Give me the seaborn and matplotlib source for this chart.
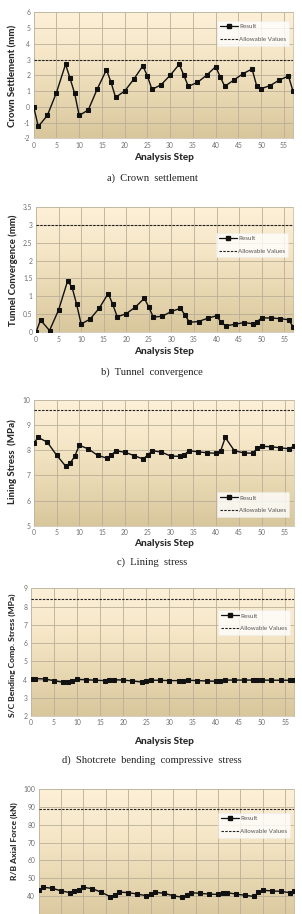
import numpy as np
import matplotlib
matplotlib.use('Agg')
import matplotlib.pyplot as plt
import seaborn as sns
from matplotlib.lines import Line2D
from matplotlib.colors import LinearSegmentedColormap

sns.set_style('white')
plt.rcParams['font.family'] = ['Lato', 'DejaVu Sans']

# analysis steps shared by all five charts
steps = [0, 1, 3, 5, 7, 8, 9, 10, 12, 14, 16, 17, 18, 20, 22, 24, 25, 26, 28, 30,
         32, 33, 34, 36, 38, 40, 41, 42, 44, 46, 48, 49, 50, 52, 54, 56, 57]

crown_settlement = [0.0, -1.25, -0.55, 0.9, 2.7, 1.8, 0.85, -0.55, -0.2, 1.15, 2.35, 1.55,
                    0.6, 1.0, 1.75, 2.6, 1.95, 1.1, 1.4, 2.0, 2.7, 2.0, 1.3, 1.55, 2.0,
                    2.55, 1.9, 1.3, 1.7, 2.1, 2.4, 1.35, 1.15, 1.35, 1.7, 1.95, 1.0]
tunnel_convergence = [0.0, 0.34, 0.05, 0.62, 1.43, 1.25, 0.78, 0.23, 0.37, 0.67, 1.08, 0.78,
                      0.43, 0.52, 0.70, 0.95, 0.70, 0.42, 0.45, 0.58, 0.67, 0.48, 0.28, 0.30,
                      0.39, 0.46, 0.28, 0.18, 0.22, 0.27, 0.24, 0.30, 0.40, 0.40, 0.38, 0.35, 0.14]
lining_stress = [8.28, 8.51, 8.32, 7.81, 7.37, 7.49, 7.76, 8.20, 8.05, 7.80, 7.69, 7.80,
                 7.98, 7.92, 7.79, 7.65, 7.81, 7.98, 7.93, 7.77, 7.76, 7.82, 7.98, 7.94,
                 7.90, 7.88, 7.98, 8.51, 7.98, 7.90, 7.88, 8.08, 8.16, 8.14, 8.10, 8.06, 8.16]
sc_bending = [4.03, 4.05, 4.03, 3.94, 3.85, 3.88, 3.92, 4.01, 3.99, 3.96, 3.94, 3.96,
              3.99, 3.97, 3.92, 3.86, 3.90, 3.96, 3.96, 3.94, 3.94, 3.94, 3.96, 3.94,
              3.92, 3.90, 3.92, 3.97, 3.97, 3.97, 3.97, 3.99, 3.97, 3.96, 3.96, 3.96, 3.99]
rb_axial = [43.2, 44.9, 44.4, 42.9, 41.9, 42.6, 43.6, 44.9, 44.1, 42.1, 39.6, 40.7,
            42.2, 41.9, 41.1, 40.2, 40.9, 42.1, 41.5, 40.2, 39.3, 40.4, 41.9, 41.5,
            41.1, 40.9, 41.5, 41.9, 41.1, 40.4, 39.8, 42.1, 43.2, 42.9, 42.6, 41.9, 42.9]

allowable = [3.0, 3.0, 9.6, 8.4, 88.6]
series = [crown_settlement, tunnel_convergence, lining_stress, sc_bending, rb_axial]
ylabels = ['Crown Settlement (mm)', 'Tunnel Convergence (mm)', 'Lining Stress  (MPa)',
           'S/C Bending Comp. Stress (MPa)', 'R/B Axial Force (kN)']
captions = ['a)  Crown  settlement', 'b)  Tunnel  convergence', 'c)  Lining  stress',
            'd)  Shotcrete  bending  compressive  stress', None]
ylims = [(-2, 6), (0, 3.5), (5, 10), (2, 9), (25, 100)]
yticks = [np.arange(-2, 6.5, 1), np.arange(0, 3.75, 0.5), np.arange(5, 10.5, 1),
          np.arange(2, 9.5, 1), np.arange(30, 105, 10)]
# the last chart is cut off at the bottom of the page, "30" is hidden
ytick_labels = [[f'{v:g}' for v in t] for t in yticks]
ytick_labels[4][0] = ''

W, H = 302, 914
# pixel boxes: left, top, right, bottom
boxes = [(33.7, 12.3, 293.0, 138.3),
         (36.0, 206.7, 293.3, 332.3),
         (33.7, 400.0, 293.7, 525.7),
         (30.7, 588.3, 294.4, 716.0),
         (38.6, 789.0, 294.3, 922.8)]
legend_pos = [(217, 21), (216, 233), (217, 492), (218, 610), (218, 813)]
ylabel_pos = [(13, 76), (13, 270), (12, 462), (12, 655), (14, 841)]
ylabel_size = [6.9, 6.8, 6.9, 6.1, 6.1]
xlabel_y = [157, 351, 543, 741, None]
caption_y = [178, 372, 562, 760, None]

fig = plt.figure(figsize=(W / 100, H / 100), dpi=100)
bg = LinearSegmentedColormap.from_list('bg', ['#fdf0d8', '#f6e7c8', '#e8d8b2', '#d8c69c'])
grad = np.linspace(0, 1, 256).reshape(-1, 1)

for i in range(5):
    l, t, r, b = boxes[i]
    ax = fig.add_axes([l / W, 1 - b / H, (r - l) / W, (b - t) / H])
    ax.imshow(grad, extent=[0, 1, 0, 1], transform=ax.transAxes, aspect='auto',
              cmap=bg, zorder=-2)
    sns.lineplot(x=steps, y=series[i], ax=ax, color='#111111', lw=1.0, marker='s',
                 markersize=2.5, markeredgecolor='#111111', zorder=3)
    ax.axhline(allowable[i], color='#222222', lw=0.8, ls=(0, (2.2, 1.2)), zorder=3)
    ax.set_xlim(0, 57)
    ax.set_ylim(*ylims[i])
    ax.set_xticks(np.arange(0, 56, 5))
    ax.set_yticks(yticks[i])
    ax.set_yticklabels(ytick_labels[i])
    ax.grid(True, color='#b9af98', lw=0.6)
    ax.set_axisbelow(True)
    ax.tick_params(labelsize=4.9, colors='#6f6f6f', length=0, pad=2.5)
    if i == 4:
        ax.tick_params(labelbottom=False)
    for s in ax.spines.values():
        s.set_color('#c2b9a4')
        s.set_linewidth(0.5)
    ax.set_xlabel('')
    ax.set_ylabel('')

    handles = [Line2D([], [], color='#111111', lw=0.9, marker='s', markersize=2.2),
               Line2D([], [], color='#222222', lw=0.8, ls=(0, (2.2, 1.2)))]
    lx, ly = legend_pos[i]
    leg = ax.legend(handles, ['Result', 'Allowable Values'], loc='upper left',
                    bbox_to_anchor=(lx / W, 1 - ly / H), bbox_transform=fig.transFigure,
                    fontsize=4.5, frameon=True, fancybox=False, handlelength=2.9,
                    handletextpad=0.15, borderpad=0.5, labelspacing=1.2, borderaxespad=0)
    leg.get_frame().set_facecolor('white')
    leg.get_frame().set_edgecolor('#ececec')
    leg.get_frame().set_linewidth(0.4)
    for txt in leg.get_texts():
        txt.set_color('#555555')

    yx, yy = ylabel_pos[i]
    fig.text(yx / W, 1 - yy / H, ylabels[i], rotation=90, ha='center', va='center',
             fontsize=ylabel_size[i], fontweight='black', color='#2a2a2a')
    if xlabel_y[i] is not None:
        fig.text(164 / W, 1 - xlabel_y[i] / H, 'Analysis Step', ha='center', va='center',
                 fontsize=7.2, fontweight='black', color='#2a2a2a')
    if caption_y[i] is not None:
        fig.text(152 / W, 1 - caption_y[i] / H, captions[i], ha='center', va='center',
                 fontsize=7.6, family='Liberation Serif', color='#222222')

fig.savefig('out.png', dpi=100)
